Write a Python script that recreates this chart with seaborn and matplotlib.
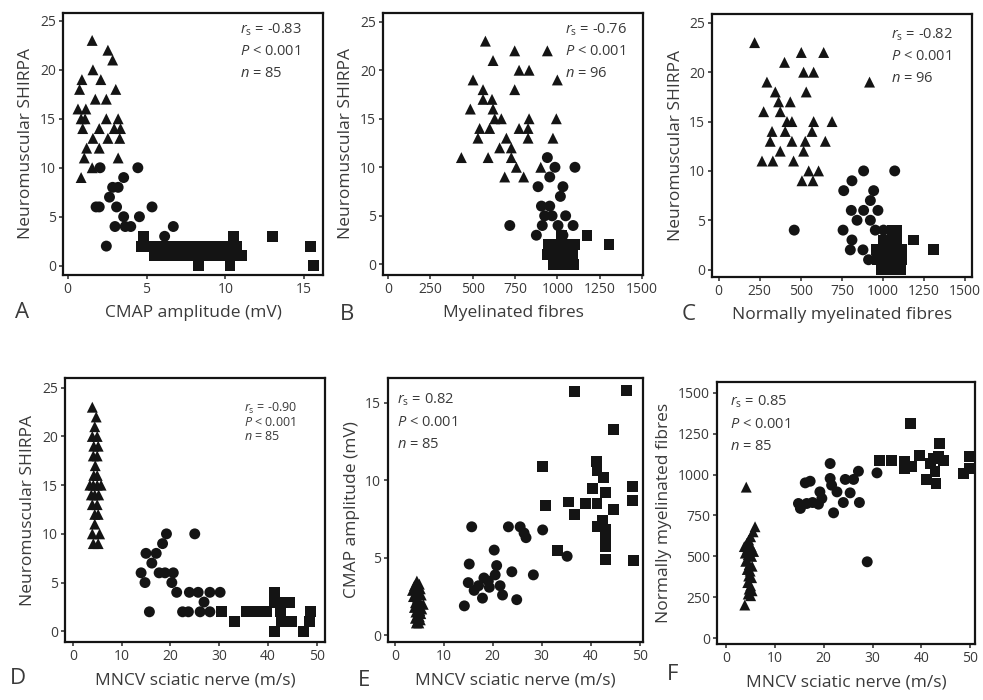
import numpy as np
import pandas as pd
import matplotlib
matplotlib.use('Agg')
import matplotlib.pyplot as plt
import seaborn as sns

sns.set_style('white')
plt.rcParams['font.family'] = ['Open Sans', 'DejaVu Sans']
plt.rcParams['mathtext.fontset'] = 'custom'
plt.rcParams['mathtext.rm'] = 'Open Sans'
plt.rcParams['mathtext.it'] = 'Open Sans:italic'

# ---------------- data ----------------
# A: SHIRPA vs CMAP amplitude
a_tri_x = [1.55, 2.55, 2.85, 1.6, 0.9, 2.1, 3.05, 0.75, 1.75, 2.45, 0.65, 1.15, 0.85, 1.1, 2.45, 3.2,
           0.95, 2.0, 2.95, 1.6, 2.55, 3.3, 1.2, 2.0, 1.05, 3.2, 1.55, 0.85, 3.35]
a_tri_y = [23, 22, 21, 20, 19, 19, 18, 18, 17, 17, 16, 16, 15, 15, 15, 15,
           14, 14, 14, 13, 13, 13, 12, 12, 11, 11, 10, 9, 14]
a_circ_x = [4.45, 2.05, 3.55, 3.2, 2.85, 2.65, 2.0, 1.8, 3.1, 5.35, 3.55, 4.55, 3.0, 3.65, 4.0,
            2.45, 6.7, 6.15]
a_circ_y = [10, 10, 9, 8, 8, 7, 6, 6, 6, 6, 5, 5, 4, 4, 4, 2, 4, 3]
a_sq_x = [4.8, 10.5, 4.7, 5.2, 5.8, 6.4, 7.0, 7.6, 8.2, 8.8, 9.4, 10.0, 10.7, 5.5, 6.1, 6.8,
          7.4, 8.0, 8.6, 9.2, 9.8, 10.5, 11.0, 8.3, 10.3, 13.0, 15.4, 15.6]
a_sq_y = [3, 3, 2, 2, 2, 2, 2, 2, 2, 2, 2, 2, 2, 1, 1, 1, 1, 1, 1, 1, 1, 1, 1, 0, 0, 3, 2, 0]

# B: SHIRPA vs myelinated fibres
b_tri_x = [575, 748, 941, 620, 774, 833, 502, 1000, 561, 748, 561, 614, 486, 620, 630, 669, 833, 994,
           541, 600, 774, 827, 531, 699, 827, 974, 659, 728, 433, 591, 728, 758, 902, 689, 801]
b_tri_y = [23, 22, 22, 21, 20, 20, 19, 19, 18, 18, 17, 17, 16, 16, 15, 15, 15, 15,
           14, 14, 14, 14, 13, 13, 13, 13, 12, 12, 11, 11, 11, 10, 10, 9, 9]
b_circ_x = [941, 986, 1104, 955, 886, 1033, 1018, 906, 955, 925, 969, 1049, 719, 911, 1004, 1093,
            876, 1033]
b_circ_y = [11, 10, 10, 9, 8, 8, 7, 6, 6, 5, 5, 5, 4, 4, 4, 4, 3, 3]
b_sq_x = [980, 1010, 1040, 1070, 1095, 940, 970, 1000, 1030, 1060, 1090, 945, 975, 1005, 1035,
          1065, 1100, 1025, 1175, 1305]
b_sq_y = [0, 0, 0, 0, 0, 1, 1, 1, 1, 1, 1, 2, 2, 2, 2, 2, 2, 3, 3, 2]

# C: SHIRPA vs normally myelinated fibres
c_tri_x = [219, 503, 639, 401, 517, 578, 294, 918, 345, 533, 365, 436, 274, 375, 416, 446, 578, 690,
           325, 405, 568, 314, 446, 527, 649, 375, 517, 264, 330, 456, 548, 608, 507, 574]
c_tri_y = [23, 22, 22, 21, 20, 20, 19, 19, 18, 18, 17, 17, 16, 16, 15, 15, 15, 15,
           14, 14, 14, 13, 13, 13, 13, 12, 12, 11, 11, 11, 10, 10, 9, 9]
c_circ_x = [460, 882, 1071, 811, 761, 943, 923, 807, 882, 969, 842, 923, 757, 953, 1003, 811, 801,
            878, 912]
c_circ_y = [4, 10, 10, 9, 8, 8, 7, 6, 6, 6, 5, 5, 4, 4, 4, 3, 2, 2, 1]
c_sq_x = [990, 1020, 1050, 1080, 1105, 965, 995, 1025, 1055, 1085, 1110, 960, 990, 1020, 1050,
          1080, 1110, 1000, 1040, 1080, 1060, 1085, 1185, 1305]
c_sq_y = [0, 0, 0, 0, 0, 1, 1, 1, 1, 1, 1, 2, 2, 2, 2, 2, 2, 3, 3, 3, 4, 4, 3, 2]

# D: SHIRPA vs MNCV
d_tri_x = [4.0, 4.8, 4.5, 4.0, 5.0, 4.3, 5.2, 4.2, 5.0, 4.6, 4.3, 5.0, 3.5, 4.2, 5.0, 5.8, 3.8,
           4.5, 5.3, 4.0, 5.0, 4.5, 5.2, 4.5, 4.0, 5.5, 4.2, 5.2]
d_tri_y = [23, 22, 21, 20, 20, 19, 19, 18, 18, 17, 16, 16, 15, 15, 15, 15, 14,
           14, 14, 13, 13, 12, 12, 11, 10, 10, 9, 9]
d_circ_x = [19.2, 25.0, 18.4, 15.0, 17.1, 16.2, 17.7, 18.9, 20.6, 14.0, 14.8, 20.3, 21.3, 23.9,
            25.7, 28.1, 30.2, 26.9, 15.7, 22.5, 23.7, 26.1, 28.1]
d_circ_y = [10, 10, 9, 8, 8, 7, 6, 6, 6, 6, 5, 5, 4, 4, 4, 4, 4, 3, 2, 2, 2, 2, 2]
d_sq_x = [30.5, 33.2, 35.5, 37.7, 39.7, 41.4, 41.4, 41.4, 42.5, 43.5, 44.5, 44.8, 47.2, 48.6,
          48.7, 42.8, 43.1]
d_sq_y = [2, 1, 2, 2, 2, 3, 4, 0, 2, 1, 3, 1, 0, 1, 2, 1, 3]

# E: CMAP amplitude vs MNCV
e_tri_x = [4.5, 4.0, 5.0, 3.6, 4.4, 5.2, 3.8, 4.6, 5.4, 4.2, 5.0, 5.8, 4.0, 4.8, 5.5, 4.3, 5.1,
           4.6, 5.3, 4.2, 5.0, 4.6, 5.2, 4.4, 4.9]
e_tri_y = [3.5, 3.2, 3.3, 2.9, 2.8, 3.0, 2.5, 2.4, 2.6, 2.1, 2.2, 2.0, 1.8, 1.9, 1.7, 1.5, 1.6,
           1.3, 1.4, 1.1, 1.2, 0.9, 1.0, 0.8, 0.8]
e_circ_x = [14.2, 15.2, 15.7, 15.0, 16.2, 17.1, 17.9, 18.2, 19.1, 20.5, 20.3, 20.8, 21.5, 22.0,
            23.2, 23.9, 24.9, 25.6, 26.4, 26.8, 28.3, 30.2, 35.2, 19.3]
e_circ_y = [1.9, 4.6, 7.0, 3.4, 2.9, 3.2, 2.4, 3.7, 3.5, 3.9, 5.5, 4.5, 3.2, 2.6,
            7.0, 4.1, 2.3, 7.0, 6.6, 6.3, 3.9, 6.8, 5.1, 3.1]
e_sq_x = [30.2, 30.8, 33.2, 35.5, 36.7, 36.7, 38.9, 40.3, 41.2, 41.3, 41.3, 41.3, 41.3, 42.7, 43.0,
          42.5, 43.0, 43.0, 43.0, 43.0, 44.6, 44.6, 47.3, 48.5, 48.5, 48.7]
e_sq_y = [10.9, 8.4, 5.5, 8.6, 15.7, 7.8, 8.5, 9.5, 11.2, 10.9, 10.6, 8.5, 7.0, 10.2, 9.2,
          7.4, 6.8, 6.1, 5.7, 4.9, 13.3, 8.1, 15.8, 9.6, 8.7, 4.8]

# F: normally myelinated fibres vs MNCV
f_tri_x = [4.1, 5.9, 5.5, 5.0, 4.6, 4.2, 3.7, 4.4, 5.1, 5.6, 3.9, 4.5, 5.2, 4.0, 4.7, 5.3, 4.3,
           4.9, 4.6, 5.2, 4.4, 5.0, 4.7, 5.3, 4.5, 5.0, 3.8]
f_tri_y = [923, 681, 650, 620, 600, 580, 560, 550, 560, 530, 520, 510, 500, 470, 450, 440, 420,
           410, 380, 370, 340, 320, 300, 290, 270, 260, 203]
f_circ_x = [14.8, 15.2, 16.2, 17.2, 17.7, 18.9, 19.2, 21.3, 21.3, 21.6, 22.0, 22.7, 24.0, 24.4,
            25.4, 26.1, 27.1, 27.3, 28.9, 30.9, 19.6, 16.5]
f_circ_y = [823, 793, 949, 959, 829, 819, 894, 1067, 976, 935, 766, 894, 829, 970,
            888, 970, 1020, 829, 467, 1010, 854, 823]
f_sq_x = [31.5, 33.9, 36.6, 36.6, 37.7, 37.9, 39.7, 41.0, 43.0, 42.8, 42.5, 43.5, 43.8, 44.5,
          48.6, 49.9, 49.8, 41.8]
f_sq_y = [1087, 1087, 1077, 1037, 1311, 1051, 1118, 970, 945, 1016, 1098, 1108, 1189, 1087,
          1006, 1037, 1108, 1067]

stats_text = ['-0.83', '-0.76', '-0.82', '-0.90', '0.82', '0.85']
n_text = ['85', '96', '96', '85', '85', '85']

ink = '#141414'
grey = '#3a3a3a'


def make_df(tx, ty, cx, cy, sx, sy):
    parts = [pd.DataFrame({'x': tx, 'y': ty, 'grp': 'tri'}),
             pd.DataFrame({'x': cx, 'y': cy, 'grp': 'circ'}),
             pd.DataFrame({'x': sx, 'y': sy, 'grp': 'sq'})]
    return pd.concat(parts, ignore_index=True)


def panel(ax, df, xlim, ylim, xticks, yticks, xlabel, ylabel, r, n, tx, ty, fs, dy):
    sns.scatterplot(data=df, x='x', y='y', style='grp',
                    markers={'tri': '^', 'circ': 'o', 'sq': 's'},
                    color=ink, s=62, linewidth=0, legend=False, ax=ax)
    ax.set_xlim(xlim)
    ax.set_ylim(ylim)
    ax.set_xticks(xticks)
    ax.set_yticks(yticks)
    ax.tick_params(direction='out', length=3, width=1.2, color=grey,
                   labelsize=10, labelcolor=grey, pad=2, left=True, bottom=True)
    for sp in ax.spines.values():
        sp.set_linewidth(1.6)
        sp.set_color(ink)
    ax.set_xlabel(xlabel, fontsize=12.5, color=grey, labelpad=6)
    ax.set_ylabel(ylabel, fontsize=12.5, color=grey, labelpad=4)
    lines = ['$\\it{r}_{\\rm s}$ = ' + r, '$\\it{P}$ < 0.001', '$\\it{n}$ = ' + n]
    for i, t in enumerate(lines):
        ax.text(tx, ty - i * dy, t, transform=ax.transAxes, fontsize=fs, color=grey,
                ha='left', va='center')


W, H = 983, 700
fig = plt.figure(figsize=(9.83, 7.0), dpi=100)


def add_axes(l, t, r, b):
    return fig.add_axes([l / W, 1 - b / H, (r - l) / W, (b - t) / H])


axA = add_axes(63, 13, 323, 275)
axB = add_axes(383, 13, 643, 275)
axC = add_axes(712, 14, 972, 277)
axD = add_axes(65, 378, 325, 642)
axE = add_axes(388, 378, 643, 642)
axF = add_axes(717, 382, 975, 644)

shirpa = [0, 5, 10, 15, 20, 25]
fib = [0, 250, 500, 750, 1000, 1250, 1500]
mncv = [0, 10, 20, 30, 40, 50]

panel(axA, make_df(a_tri_x, a_tri_y, a_circ_x, a_circ_y, a_sq_x, a_sq_y),
      (-0.3, 16.2), (-0.95, 25.8), [0, 5, 10, 15], shirpa,
      'CMAP amplitude (mV)', 'Neuromuscular SHIRPA', stats_text[0], n_text[0],
      0.68, 0.935, 10.5, 0.083)
panel(axB, make_df(b_tri_x, b_tri_y, b_circ_x, b_circ_y, b_sq_x, b_sq_y),
      (-30, 1506), (-1.1, 25.9), fib, shirpa,
      'Myelinated fibres', 'Neuromuscular SHIRPA', stats_text[1], n_text[1],
      0.70, 0.935, 10.5, 0.083)
panel(axC, make_df(c_tri_x, c_tri_y, c_circ_x, c_circ_y, c_sq_x, c_sq_y),
      (-40, 1541), (-0.75, 25.9), fib, shirpa,
      'Normally myelinated fibres', 'Neuromuscular SHIRPA', stats_text[2], n_text[2],
      0.69, 0.92, 10.5, 0.083)
panel(axD, make_df(d_tri_x, d_tri_y, d_circ_x, d_circ_y, d_sq_x, d_sq_y),
      (-1.6, 51.7), (-1.1, 26.0), mncv, shirpa,
      'MNCV sciatic nerve (m/s)', 'Neuromuscular SHIRPA', stats_text[3], n_text[3],
      0.69, 0.886, 9, 0.053)
panel(axE, make_df(e_tri_x, e_tri_y, e_circ_x, e_circ_y, e_sq_x, e_sq_y),
      (-1.4, 50.7), (-0.43, 16.6), mncv, [0, 5, 10, 15],
      'MNCV sciatic nerve (m/s)', 'CMAP amplitude (mV)', stats_text[4], n_text[4],
      0.035, 0.917, 10.5, 0.085)
panel(axF, make_df(f_tri_x, f_tri_y, f_circ_x, f_circ_y, f_sq_x, f_sq_y),
      (-1.9, 51.0), (-35, 1565), mncv, fib,
      'MNCV sciatic nerve (m/s)', 'Normally myelinated fibres', stats_text[5], n_text[5],
      0.05, 0.924, 10.5, 0.086)

# panel letters
for letter, (px, py) in zip('ABCDEF', [(15, 313), (340, 315), (682, 315),
                                       (10, 678), (358, 680), (667, 675)]):
    fig.text(px / W, 1 - py / H, letter, fontsize=16, color=grey, ha='left', va='center')

fig.savefig('out.png', dpi=100, facecolor='white')
